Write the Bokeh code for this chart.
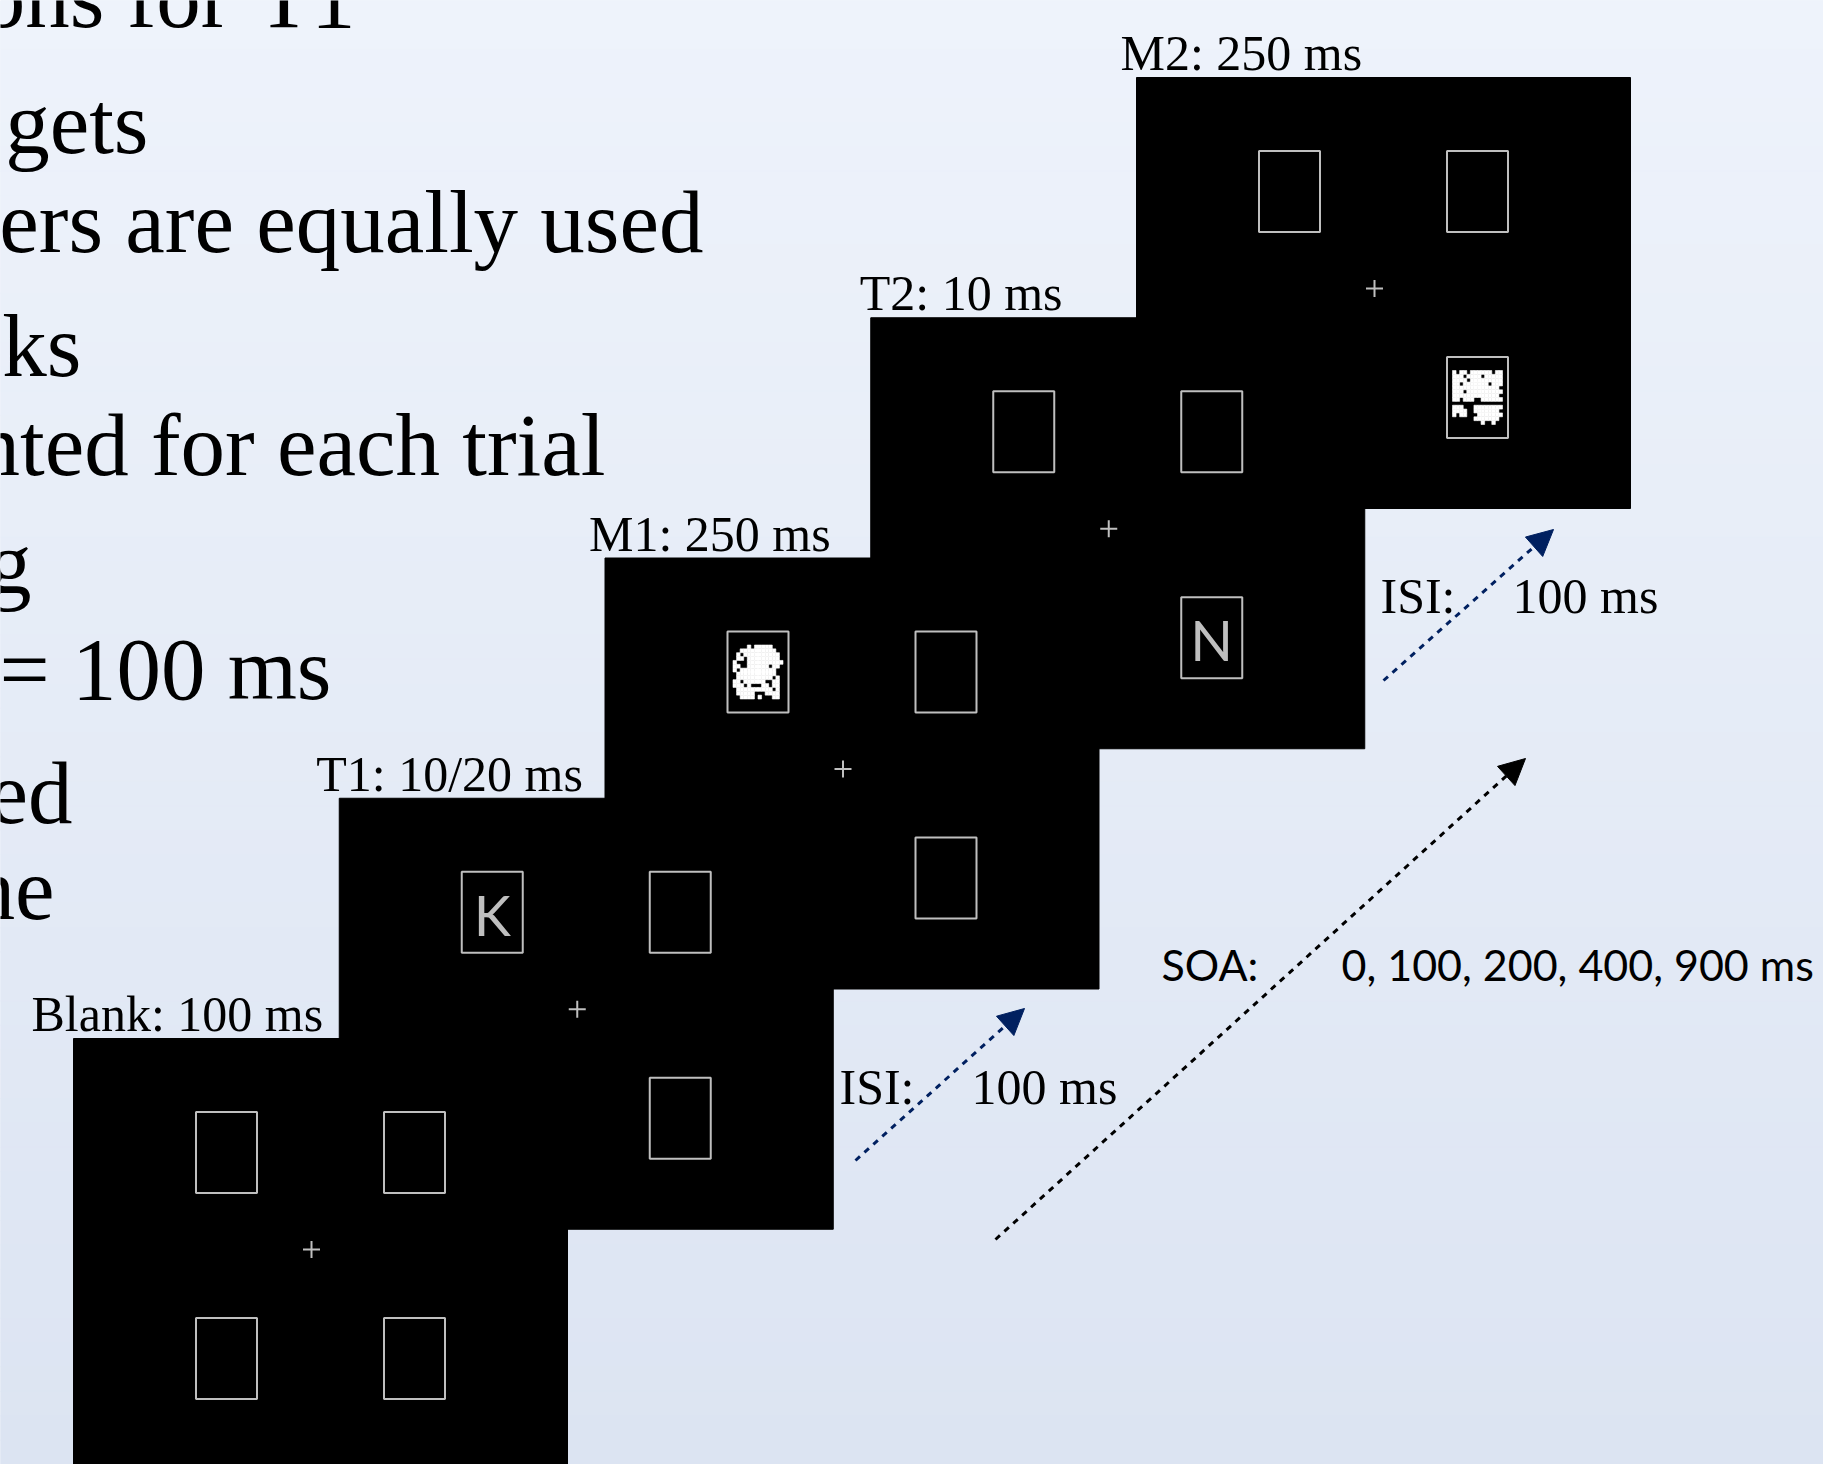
import numpy as np
from bokeh.plotting import figure
from bokeh.models import Range1d, Arrow, NormalHead
from bokeh.core.properties import value
from bokeh.embed import file_html
from bokeh.resources import INLINE

# ------------------------------------------------------------------ data
stage_names = ["Blank", "T1", "M1", "T2", "M2"]
stage_durations = ["100 ms", "10/20 ms", "250 ms", "10 ms", "250 ms"]
stage_content = ["", "K", "mask", "N", "mask"]
stage_content_slot = ["", "UL", "UL", "LR", "LR"]
isi_duration = "100 ms"
soa_values = [0, 100, 200, 400, 900]
soa_unit = "ms"
slide_lines = ["ons for", "T1", "gets", "ers are equally used", "ks",
               "nted for each trial", "g", "= 100 ms", "ed", "he"]

mask_m1 = [
    "....#.#####...",
    "..##########..",
    ".#.##########.",
    ".##.#########.",
    "#...##########",
    "##..######.##.",
    "#.##########..",
    ".###########..",
    ".##########.#.",
    "##.######..##.",
    "###.#...##.##.",
    ".##########.#.",
    ".#####...####.",
    "..####.#...##.",
]
mask_m2 = [
    "#.##.######.##",
    "###.####.#####",
    "####.#########",
    "##.#######.###",
    "#############.",
    "###.##########",
    "#############.",
    "##.###..######",
    "..............",
    "###...########",
    "####..#######.",
    "#.##...#######",
    "......#######.",
    "........#..#..",
]

# ------------------------------------------------------------------ layout
W, H = 1823, 1464
FRAME_W, FRAME_H = 494, 431
X0, Y0 = 73.0, 1038.0
STEP_X, STEP_Y = 265.75, -240.25
SLOTS = {"UL": (153, 114), "UR": (341, 114), "LL": (153, 320), "LR": (341, 320)}
BOX_W, BOX_H = 61, 81
CROSS_REL = (238, 211)
LABEL_DX = [-42, -23, -16, -11, -16]
GREY = "#BFBFBF"
NAVY = "#002060"
SERIF = value("Liberation Serif")
SANS = value("Lato")
MID = 0.31  # distance from baseline to the 'middle' anchor, in em


def mid_y(baselines, size):
    return [b - MID * size for b in baselines]


p = figure(width=W, height=H,
           x_range=Range1d(0, W), y_range=Range1d(H, 0),
           output_backend="svg", toolbar_location=None, min_border=0,
           x_axis_type=None, y_axis_type=None)
p.grid.visible = False
p.outline_line_color = None
p.background_fill_color = "#E6ECF7"
p.border_fill_color = "#E6ECF7"

# background gradient
n_strips = 60
top_c = np.array([0xEE, 0xF3, 0xFB])
bot_c = np.array([0xDC, 0xE4, 0xF2])
edges = np.linspace(0, H, n_strips + 1)
cols = []
for i in range(n_strips):
    t = i / (n_strips - 1)
    c = (top_c * (1 - t) + bot_c * t).round().astype(int)
    cols.append("#%02X%02X%02X" % tuple(c))
p.quad(left=[0] * n_strips, right=[W] * n_strips, top=list(edges[:-1]),
       bottom=list(edges[1:]), fill_color=cols, line_color=cols, line_width=1)

# slide text on the left (cut off by the slide edge)
BIG = 89
line_right = [230, 355, 148, 703, 81, 605, 31, 331, 72, 54]
line_base = [24, 24, 150, 249, 373, 472, 590, 696, 820, 916]
p.text(x=line_right, y=mid_y(line_base, BIG), text=slide_lines, text_font=SERIF,
       text_font_size=f"{BIG}px", text_align="right", text_baseline="middle",
       text_color="black")

# frames: earlier frames lie on top of later ones
LBL = 50
for i in reversed(range(len(stage_names))):
    fx = X0 + STEP_X * i
    fy = Y0 + STEP_Y * i
    p.quad(left=[fx], right=[fx + FRAME_W], top=[fy], bottom=[fy + FRAME_H],
           fill_color="black", line_color="black")
    bx = [fx + SLOTS[k][0] for k in SLOTS]
    by = [fy + SLOTS[k][1] for k in SLOTS]
    p.quad(left=[x - BOX_W / 2 for x in bx], right=[x + BOX_W / 2 for x in bx],
           top=[y - BOX_H / 2 for y in by], bottom=[y + BOX_H / 2 for y in by],
           fill_color=None, line_color=GREY, line_width=2)
    p.scatter(x=[fx + CROSS_REL[0]], y=[fy + CROSS_REL[1]], marker="cross",
              size=17, line_color=GREY, line_width=2)
    content = stage_content[i]
    if content:
        sx = fx + SLOTS[stage_content_slot[i]][0]
        sy = fy + SLOTS[stage_content_slot[i]][1]
        if content == "mask":
            bitmap = mask_m1 if stage_names[i] == "M1" else mask_m2
            nr, nc = len(bitmap), len(bitmap[0])
            bw, bh = 50, 54
            cw, ch = bw / nc, bh / nr
            L, R, T, B = [], [], [], []
            for r, row in enumerate(bitmap):
                for c, v in enumerate(row):
                    if v == "#":
                        L.append(sx - bw / 2 + c * cw)
                        R.append(sx - bw / 2 + (c + 1) * cw)
                        T.append(sy - bh / 2 + r * ch)
                        B.append(sy - bh / 2 + (r + 1) * ch)
            p.quad(left=L, right=R, top=T, bottom=B, fill_color="white",
                   line_color="white", line_width=0.6)
        else:
            p.text(x=[sx], y=[sy + 2], text=[content], text_font=SANS,
                   text_font_size="56px", text_align="center",
                   text_baseline="middle", text_color=GREY)
    # stage label
    p.text(x=[fx + LABEL_DX[i]], y=mid_y([fy - 9], LBL),
           text=[f"{stage_names[i]}: {stage_durations[i]}"],
           text_font=SERIF, text_font_size=f"{LBL}px", text_align="left",
           text_baseline="middle", text_color="black")

# arrows
arrows = [
    ((855, 1160), (1024, 1008), NAVY),
    ((995, 1239), (1525, 758), "black"),
    ((1383, 680), (1553, 529), NAVY),
]
for (xs, ys), (xe, ye), col in arrows:
    p.add_layout(Arrow(x_start=xs, y_start=ys, x_end=xe, y_end=ye,
                       line_color=col, line_width=3, line_dash="6 6",
                       end=NormalHead(size=26, fill_color=col, line_color=col)))

# arrow texts
p.text(x=[839, 1380], y=mid_y([1102, 611], LBL), text=["ISI:", "ISI:"], text_font=SERIF,
       text_font_size=f"{LBL}px", text_align="left", text_baseline="middle",
       text_color="black")
p.text(x=[971, 1512], y=mid_y([1102, 611], LBL), text=[isi_duration, isi_duration],
       text_font=SERIF, text_font_size=f"{LBL}px", text_align="left",
       text_baseline="middle", text_color="black")
SOA_SIZE = 43
p.text(x=[1161, 1341], y=mid_y([977, 977], SOA_SIZE),
       text=["SOA:", ", ".join(str(v) for v in soa_values) + " " + soa_unit],
       text_font=SANS, text_font_size=f"{SOA_SIZE}px", text_align="left",
       text_baseline="middle", text_color="black")

open("out.html", "w").write(file_html(p, INLINE))
